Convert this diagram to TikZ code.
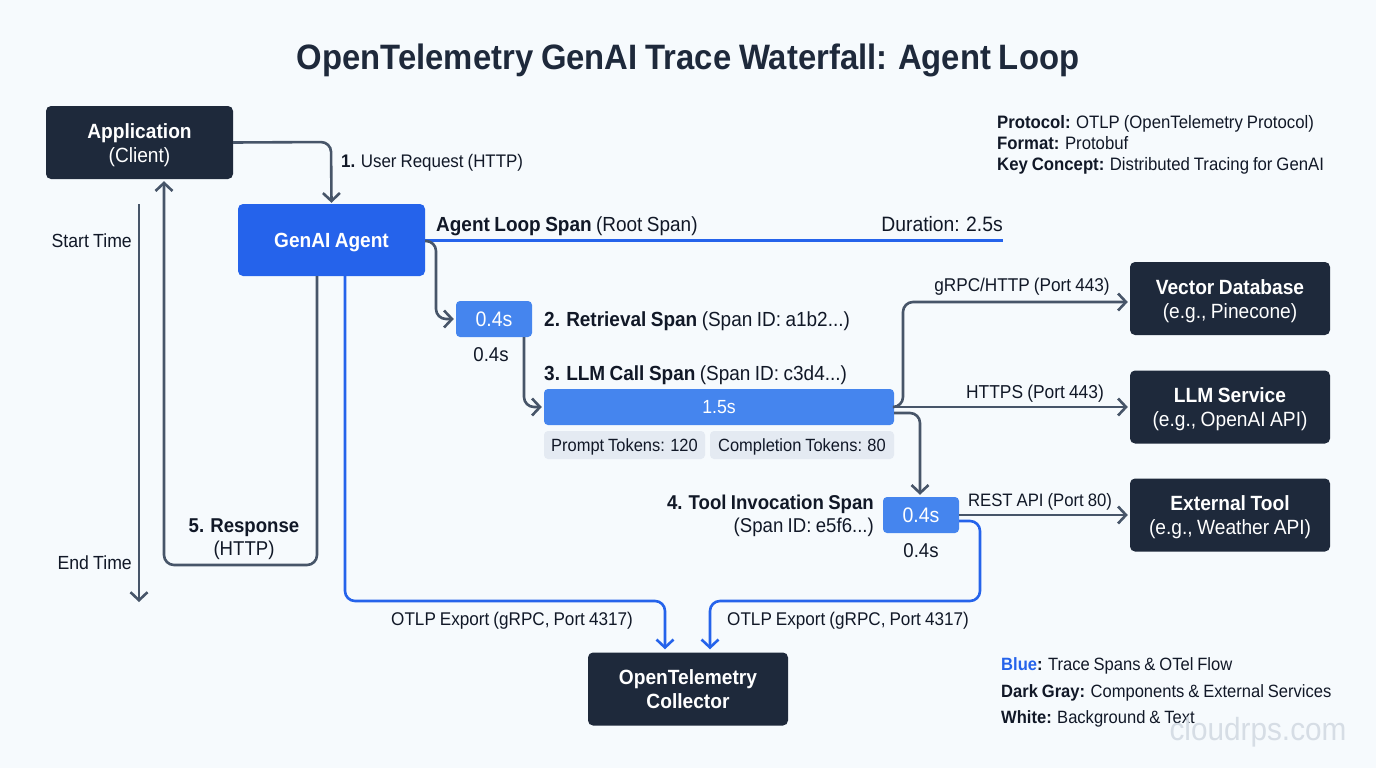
\documentclass[tikz,border=0pt]{standalone}
\usepackage{fontspec}
\setmainfont{Liberation Sans}[FakeStretch=0.93,WordSpace=0.85]
\usetikzlibrary{arrows.meta,calc}
\definecolor{bgc}{HTML}{F6FAFD}
\definecolor{navy}{HTML}{1E293B}
\definecolor{agentblue}{HTML}{2563EB}
\definecolor{spanblue}{HTML}{4585EE}
\definecolor{slatec}{HTML}{475569}
\definecolor{chipc}{HTML}{E4EAF2}
\definecolor{inkc}{HTML}{111827}
\definecolor{markc}{HTML}{D6DDE5}
\newcommand{\fs}[1]{\fontsize{#1}{#1}\selectfont}
\newcommand{\tp}{\rule{0pt}{20pt}}
\tikzset{
  x=1pt,y=-1pt,
  darkbox/.style={draw=none,fill=navy,rounded corners=5pt,text=white,align=center,inner sep=0pt,font=\fs{20.6}\linespread{1.17}\selectfont},
  spanbox/.style={draw=none,fill=spanblue,rounded corners=4pt,text=white,align=center,inner sep=0pt,font=\fs{19}},
  chip/.style={draw=none,fill=chipc,rounded corners=4pt,text=inkc,align=center,inner sep=0pt,font=\fs{17.7}},
  lab/.style={text=inkc,inner sep=0pt,font=\fs{18.5},align=left,yshift=-2pt},
  barb/.style={-{Straight Barb[length=8pt,width=17pt,line width=2.6pt]}},
  graylink/.style={draw=slatec,line width=2.6pt,rounded corners=10pt,barb},
  grayplain/.style={draw=slatec,line width=2.6pt},
  bluelink/.style={draw=agentblue,line width=2.6pt,rounded corners=10pt,barb},
}
\begin{document}
\begin{tikzpicture}
\useasboundingbox (0,0) rectangle (1376,768);
\fill[bgc] (0,0) rectangle (1376,768);

\node[text=navy,inner sep=0pt,font=\fs{35.3}\bfseries,yshift=-3.5pt] (title) at (688,57) {OpenTelemetry GenAI Trace Waterfall: Agent Loop};

% boxes
\node[darkbox,minimum width=187pt,minimum height=73pt] (app) at (139.5,142.5) {\tp\textbf{Application}\\(Client)};
\node[draw=none,fill=agentblue,rounded corners=5pt,text=white,inner sep=0pt,minimum width=187pt,minimum height=72pt,font=\fs{20.5}\bfseries] (agent) at (331.5,240) {\tp GenAI Agent};
\node[spanbox,minimum width=76pt,minimum height=36pt,font=\fs{21}] (ret) at (494,319) {0.4s};
\node[spanbox,minimum width=350pt,minimum height=36pt] (llm) at (719,407) {1.5s};
\node[spanbox,minimum width=76pt,minimum height=36pt,font=\fs{21}] (tool) at (921,515) {0.4s};
\node[chip,minimum width=161pt,minimum height=28pt] (c1) at (624.5,445) {\rule{0pt}{16pt}Prompt Tokens: 120};
\node[chip,minimum width=184pt,minimum height=28pt] (c2) at (802,445) {\rule{0pt}{16pt}Completion Tokens: 80};
\node[darkbox,minimum width=200pt,minimum height=73pt] (vec) at (1230,298.5) {\tp\textbf{Vector Database}\\(e.g., Pinecone)};
\node[darkbox,minimum width=200pt,minimum height=73pt] (svc) at (1230,407) {\tp\textbf{LLM Service}\\(e.g., OpenAI API)};
\node[darkbox,minimum width=200pt,minimum height=73pt] (ext) at (1230,515) {\tp\textbf{External Tool}\\(e.g., Weather API)};
\node[darkbox,minimum width=200pt,minimum height=73pt,font=\fs{20.6}\bfseries\linespread{1.17}\selectfont] (col) at (688,689) {OpenTelemetry\\Collector};

% helper coordinates
\coordinate (axisS) at (139,204);
\coordinate (axisE) at (139,602);
\coordinate (rootE) at (1003,240);

% connectors
\draw[graylink] (app.east) -- (331,142) -- ($(agent.north)+(0,-1)$);
\draw[graylink] (agent.south -| 317,0) -- (317,565) -- (164,565) -- ($(app.south -| 164,0)+(0,2)$);
\draw[grayplain,barb] (axisS) -- (axisE);
\draw[draw=agentblue,line width=3pt] (agent.east) -- (rootE);
\draw[graylink] ($(agent.east)+(0,1)$) -- (436,241) -- (436,319) -- ($(ret.west)+(-2,0)$);
\draw[graylink] (ret.south -| 524,0) -- (524,407) -- ($(llm.west)+(-2,0)$);
\draw[graylink] (llm.east) -- (903,407) -- (903,302) -- ($(vec.west |- 0,302)+(-2,0)$);
\draw[graylink] (llm.east) -- ($(svc.west)+(-2,0)$);
\draw[graylink] ($(llm.east)+(0,6)$) -- (920,413) -- ($(tool.north -| 920,0)+(0,-2)$);
\draw[graylink] (tool.east) -- ($(ext.west)+(-2,0)$);
\draw[bluelink] ($(tool.east)+(0,6)$) -- (980,521) -- (980,601) -- (710,601) -- ($(col.north -| 710,0)+(0,-3)$);
\draw[bluelink] (agent.south -| 345,0) -- (345,601) -- (665,601) -- ($(col.north -| 665,0)+(0,-3)$);

% labels
\node[lab,anchor=west,font=\fs{18.2}] (l1) at (341,161) {\textbf{1.} User Request (HTTP)};
\node[lab,anchor=east,font=\fs{19}] (ls) at (132,239) {Start Time};
\node[lab,anchor=east,font=\fs{19}] (le) at (132,561) {End Time};
\node[lab,align=center,anchor=center,font=\fs{20}\linespread{1.17}\selectfont] (l5) at (244,537) {\textbf{5. Response}\\(HTTP)};
\node[lab,anchor=west,font=\fs{20.4}] (lroot) at (436,224) {\textbf{Agent Loop Span} (Root Span)};
\node[lab,anchor=east,font=\fs{20.8}] (ldur) at (1003,222) {Duration: 2.5s};
\node[lab,anchor=west,font=\fs{20.4}] (lret) at (544,319) {\textbf{2. Retrieval Span} (Span ID: a1b2...)};
\node[lab,font=\fs{20}] (t1) at (491,353) {0.4s};
\node[lab,anchor=west,font=\fs{20.4}] (lllm) at (544,373) {\textbf{3. LLM Call Span} (Span ID: c3d4...)};
\node[lab,anchor=east,align=right,font=\fs{20}\linespread{1.17}\selectfont] (ltool) at (874,514) {\textbf{4. Tool Invocation Span}\\(Span ID: e5f6...)};
\node[lab,font=\fs{20}] (t2) at (921,549) {0.4s};
\node[lab,font=\fs{18.5}] (lg) at (1022,285) {gRPC/HTTP (Port 443)};
\node[lab,font=\fs{18.7}] (lh) at (1035,392) {HTTPS (Port 443)};
\node[lab,font=\fs{18}] (lr) at (1040,500) {REST API (Port 80)};
\node[lab,font=\fs{18.4}] (lo1) at (512,619) {OTLP Export (gRPC, Port 4317)};
\node[lab,font=\fs{18.4}] (lo2) at (848,619) {OTLP Export (gRPC, Port 4317)};
\node[lab,anchor=north west,font=\fs{18}\linespread{1.0}\selectfont,align=left] (info) at (997,113.5) {\textbf{Protocol:} OTLP (OpenTelemetry Protocol)\\[3pt]\textbf{Format:} Protobuf\\[3pt]\textbf{Key Concept:} Distributed Tracing for GenAI};
\node[lab,anchor=west,font=\fs{17.8}] (k1) at (1001,664) {\textcolor{agentblue}{\textbf{Blue}}\textbf{:} Trace Spans \& OTel Flow};
\node[lab,anchor=west,font=\fs{17.8}] (k2) at (1001,690.5) {\textbf{Dark Gray:} Components \& External Services};
\node[lab,anchor=west,font=\fs{17.8}] (k3) at (1001,717) {\textbf{White:} Background \& Text};
\node[text=markc,inner sep=0pt,font=\fs{32}] (wm) at (1258,732) {cloudrps.com};
\end{tikzpicture}
\end{document}
